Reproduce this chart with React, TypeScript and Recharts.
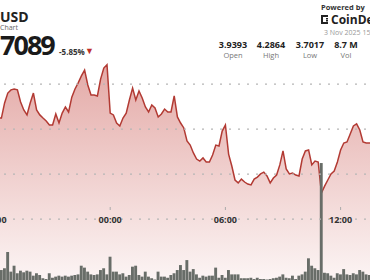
import { ComposedChart, Area, Bar, XAxis, YAxis, ReferenceLine } from 'recharts'

// 10-minute steps, index 0 = 18:00
const prices = [
    4.040, 4.049, 4.049, 4.116, 4.160, 4.174, 4.178, 4.174, 4.120, 4.085,
    4.063, 4.116, 4.160, 4.085, 4.063, 4.049, 4.036, 4.018, 4.018, 4.067,
    4.027, 4.071, 4.098, 4.076, 4.142, 4.178, 4.205, 4.236, 4.262, 4.196,
    4.151, 4.151, 4.147, 4.222, 4.271, 4.286, 4.071, 4.063, 4.027, 4.014,
    4.049, 4.071, 4.129, 4.182, 4.129, 4.169, 4.138, 4.098, 4.076, 4.107,
    4.094, 4.054, 4.067, 4.089, 4.076, 4.076, 4.147, 4.054, 4.027, 4.005,
    3.947, 3.929, 3.894, 3.867, 3.858, 3.872, 3.854, 3.854, 3.885, 3.929,
    3.925, 3.991, 4.018, 3.889, 3.836, 3.774, 3.761, 3.778, 3.765, 3.756,
    3.752, 3.778, 3.787, 3.801, 3.809, 3.792, 3.761, 3.783, 3.796, 3.841,
    3.903, 3.823, 3.801, 3.805, 3.796, 3.792, 3.867, 3.903, 3.907, 3.841,
    3.858, 3.854, 3.716, 3.747, 3.774, 3.801, 3.814, 3.854, 3.907, 3.938,
    3.943, 3.978, 4.014, 4.023, 3.996, 3.943, 3.938, 3.938, 3.938,
]

// volume in thousands
const volumes = [
    50, 37, 62, 73, 174, 52, 89, 42, 58, 48,
    58, 52, 27, 42, 31, 11, 6, 42, 14, 21,
    27, 21, 27, 21, 27, 31, 35, 89, 77, 52,
    35, 31, 35, 62, 73, 35, 145, 52, 52, 35,
    42, 21, 31, 83, 89, 31, 21, 52, 21, 11,
    3, 52, 21, 21, 14, 31, 42, 62, 93, 62,
    124, 52, 68, 35, 14, 27, 21, 27, 27, 77,
    14, 31, 14, 62, 35, 35, 35, 11, 11, 11,
    14, 6, 14, 6, 6, 3, 6, 11, 14, 21,
    35, 14, 11, 27, 6, 27, 35, 52, 135, 89,
    73, 62, 728, 45, 42, 27, 14, 42, 35, 68,
    35, 31, 42, 35, 62, 52, 35, 31, 31,
]

const timeTicks = [0, 36, 72, 108]
const timeLabels = ['18:00', '00:00', '06:00', '12:00']
const priceTicks = [3.6, 3.8, 4.0, 4.2]

const stats = [
    { label: 'Open', value: '3.9393', x: 233 },
    { label: 'High', value: '4.2864', x: 271 },
    { label: 'Low', value: '3.7017', x: 310 },
    { label: 'Vol', value: '8.7 M', x: 346 },
]

const rows = prices.map((p, i) => ({ i, price: p, vol: volumes[i] }))

const LABEL_Y = 223

function TimeTick({ x, payload }: any) {
    const idx = timeTicks.indexOf(payload.value)
    return (
        <g>
            <line x1={x} x2={x} y1={207} y2={210} stroke="#aaa" strokeWidth={1} />
            <text x={x} y={LABEL_Y} textAnchor="middle" fontSize={9} fontWeight={700} fill="#333"
                fontFamily='"Open Sans", sans-serif'>
                {timeLabels[idx]}
            </text>
        </g>
    )
}

export default function App() {
    return (
        <div style={{ position: 'relative', width: 370, height: 280, overflow: 'hidden', background: '#fff', fontFamily: '"Open Sans", sans-serif', color: '#222' }}>
            <style>{`body{margin:0}`}</style>
            <div style={{ position: 'absolute', left: -5, top: 0 }}>
                <ComposedChart width={384} height={300} data={rows} margin={{ top: 39, right: 0, left: 0, bottom: 0 }}>
                    <defs>
                        <linearGradient id="pf" x1="0" y1="0" x2="0" y2="1">
                            <stop offset="0%" stopColor="#c8524c" stopOpacity={0.82} />
                            <stop offset="100%" stopColor="#c8524c" stopOpacity={0.1} />
                        </linearGradient>
                    </defs>
                    <XAxis dataKey="i" type="number" domain={[0, 120]} ticks={timeTicks} height={20}
                        axisLine={false} tickLine={false} tick={<TimeTick />} interval={0} allowDataOverflow />
                    <YAxis domain={[3.33, 4.4]} ticks={priceTicks} width={0} tick={false} axisLine={false} tickLine={false} allowDataOverflow />
                    <YAxis yAxisId="v" orientation="right" domain={[0, 1500]} width={0} tick={false} axisLine={false} tickLine={false} />
                    <Area type="linear" dataKey="price" stroke="#b23a33" strokeWidth={1.5} fill="url(#pf)"
                        dot={false} activeDot={false} isAnimationActive={false} />
                    {priceTicks.map((t) => (
                        <ReferenceLine key={t} y={t} stroke="#b5b5b5" strokeDasharray="2 7" strokeWidth={1.3} ifOverflow="visible" />
                    ))}
                    <Bar yAxisId="v" dataKey="vol" barSize={2.9} fill="#686d68" isAnimationActive={false} />
                </ComposedChart>
            </div>

            <div style={{ position: 'absolute', left: 0, top: 10, fontSize: 14, fontWeight: 700, lineHeight: '14px' }}>USD</div>
            <div style={{ position: 'absolute', left: 0, top: 24, fontSize: 7, color: '#666', lineHeight: '7px' }}>Chart</div>
            <div style={{ position: 'absolute', left: 0, top: 35, fontSize: 27, fontWeight: 700, lineHeight: '20px', letterSpacing: -2, color: '#1a1a1a' }}>7089</div>
            <div style={{ position: 'absolute', left: 59, top: 47, fontSize: 8, fontWeight: 700, color: '#333', lineHeight: '9px' }}>-5.85%</div>
            <div style={{ position: 'absolute', left: 85, top: 46, fontSize: 9, color: '#c0302a', lineHeight: '10px' }}>▼</div>

            <div style={{ position: 'absolute', left: 321, top: 2, fontSize: 7.5, fontWeight: 700, color: '#333', lineHeight: '10px', whiteSpace: 'nowrap' }}>Powered by</div>
            <div style={{ position: 'absolute', left: 321, top: 13, display: 'flex', alignItems: 'center', gap: 2, whiteSpace: 'nowrap' }}>
                <svg width="8" height="9" viewBox="0 0 8 9">
                    <rect x="0" y="0" width="2" height="9" fill="#222" />
                    <rect x="0" y="0" width="7" height="2" fill="#222" />
                    <rect x="0" y="7" width="7" height="2" fill="#222" />
                    <rect x="5" y="3" width="2" height="1.5" fill="#222" />
                    <rect x="5" y="5" width="2" height="1.5" fill="#222" />
                </svg>
                <span style={{ fontSize: 12, fontWeight: 700, lineHeight: '13px', color: '#222' }}>CoinDesk</span>
            </div>
            <div style={{ position: 'absolute', left: 324, top: 28, fontSize: 7, color: '#999', lineHeight: '9px', whiteSpace: 'nowrap' }}>3 Nov 2025 15:00</div>

            {stats.map((s) => (
                <div key={s.label} style={{ position: 'absolute', left: s.x - 20, width: 40, top: 40, textAlign: 'center' }}>
                    <div style={{ fontSize: 9, fontWeight: 700, lineHeight: '10px', color: '#222' }}>{s.value}</div>
                    <div style={{ fontSize: 7.5, lineHeight: '8px', color: '#777', marginTop: 1 }}>{s.label}</div>
                </div>
            ))}
        </div>
    )
}
